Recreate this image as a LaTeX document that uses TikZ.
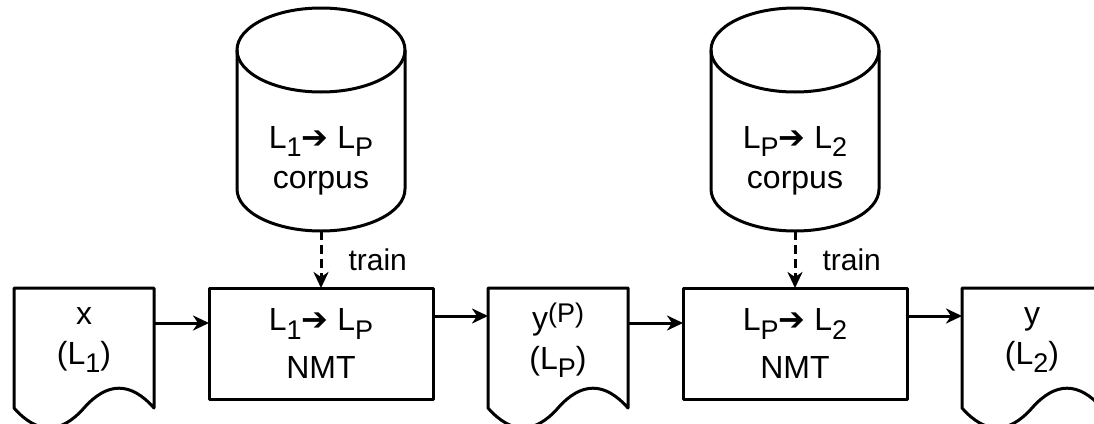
\documentclass[tikz,border=0pt]{standalone}
\usepackage{fontspec}
\setmainfont{Liberation Sans}
\newfontfamily\arrowfont{DejaVu Sans}
\usetikzlibrary{arrows.meta, positioning}

% smaller raised/lowered indices as in the language names
\newcommand{\lsub}[1]{\raisebox{-8.5pt}{\fontsize{27}{27}\selectfont #1}}
\newcommand{\lsup}[1]{\raisebox{7pt}{\fontsize{27}{27}\selectfont #1}}
\newcommand{\tto}{{\arrowfont ➔}}

\begin{document}
\begin{tikzpicture}[
  font=\fontsize{32}{38}\selectfont,
  outline/.style={draw=black, line width=3pt, line join=round},
  nmt/.style={outline, rectangle, minimum width=224pt, minimum height=111pt,
              inner sep=0pt, outer sep=0pt, align=center},
  doc/.style={rectangle, minimum width=140pt, minimum height=104pt,
              inner sep=0pt, outer sep=0pt, align=center},
  db/.style={rectangle, minimum width=168pt, minimum height=141pt,
             inner sep=0pt, outer sep=0pt, align=center},
  flow/.style={line width=3pt, -{Stealth[length=16pt, width=15pt, inset=5pt]}},
  feed/.style={flow, dash pattern=on 9pt off 5pt},
  tag/.style={font=\fontsize{30}{36}\selectfont, inner sep=0pt},
]
\path[fill=white, use as bounding box] (0,0) rectangle (1094pt,-423pt);

\node[nmt] (nmtA) at (321pt,-343.5pt) {L\lsub{1}\tto{} L\lsub{P}\\[10pt]NMT};
\node[doc, left=55pt of nmtA.north west, anchor=north east] (src) {x\\[2pt](L\lsub{1})};
\node[doc, right=55pt of nmtA.north east, anchor=north west] (piv) {y\lsup{(P)}\\[2pt](L\lsub{P})};
\node[nmt, right=55pt of piv.north east, anchor=north west] (nmtB) {L\lsub{P}\tto{} L\lsub{2}\\[10pt]NMT};
\node[doc, right=55pt of nmtB.north east, anchor=north west] (tgt) {y\\[2pt](L\lsub{2})};
\node[db, above=57pt of nmtA] (corpA) {L\lsub{1}\tto{} L\lsub{P}\\[2pt]corpus};
\node[db, above=57pt of nmtB] (corpB) {L\lsub{P}\tto{} L\lsub{2}\\[2pt]corpus};

% document outlines with the wavy bottom
\foreach \d in {src,piv,tgt}
  \draw[outline] (\d.north west) -- (\d.north east) -- ([yshift=-120pt]\d.north east)
    .. controls ([shift={(116.7pt,-93.6pt)}]\d.north west) and ([shift={(93.3pt,-93.6pt)}]\d.north west)
    .. ([shift={(70pt,-120pt)}]\d.north west)
    .. controls ([shift={(46.7pt,-146.4pt)}]\d.north west) and ([shift={(23.3pt,-146.4pt)}]\d.north west)
    .. ([yshift=-120pt]\d.north west) -- cycle;

% corpus cylinders
\foreach \c in {corpA,corpB} {
  \draw[outline] ([shift={(-84pt,42pt)}]\c.south) -- ++(0,139pt)
    arc[start angle=180, end angle=0, x radius=84pt, y radius=42pt] -- ++(0,-139pt)
    arc[start angle=0, end angle=-180, x radius=84pt, y radius=42pt] -- cycle;
  \draw[outline] ([shift={(-84pt,181pt)}]\c.south)
    arc[start angle=180, end angle=360, x radius=84pt, y radius=42pt];
}

\draw[flow] ([yshift=-35pt]src.north east) -- ([yshift=-35pt]nmtA.north west);
\draw[flow] ([yshift=-28pt]nmtA.north east) -- ([yshift=-28pt]piv.north west);
\draw[flow] ([yshift=-35pt]piv.north east) -- ([yshift=-35pt]nmtB.north west);
\draw[flow] ([yshift=-28pt]nmtB.north east) -- ([yshift=-28pt]tgt.north west);
\draw[feed] (corpA) -- (nmtA) node[tag, midway, anchor=west, xshift=26pt] {train};
\draw[feed] (corpB) -- (nmtB) node[tag, midway, anchor=west, xshift=26pt] {train};
\end{tikzpicture}
\end{document}
